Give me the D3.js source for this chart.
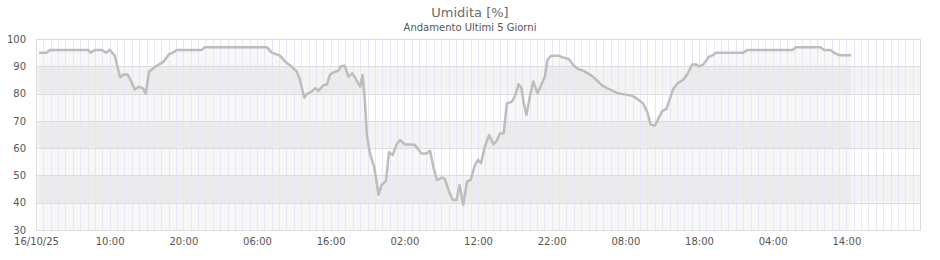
<!DOCTYPE html>
<html>
<head>
<meta charset="utf-8">
<script src="https://cdn.jsdelivr.net/npm/d3@7"></script>
<style>
  body { margin: 0; background: #fff; }
  svg { display: block; font-family: "DejaVu Sans", sans-serif; }
</style>
</head>
<body>
<div id="chart"></div>
<script>
// letture (data ora, umidita %)
const times = [
  "2025-10-16 00:25", "2025-10-16 01:25", "2025-10-16 01:55", "2025-10-16 07:05", "2025-10-16 07:25",
  "2025-10-16 08:00", "2025-10-16 08:55", "2025-10-16 09:30", "2025-10-16 10:00", "2025-10-16 10:40",
  "2025-10-16 11:00", "2025-10-16 11:25", "2025-10-16 11:55", "2025-10-16 12:25", "2025-10-16 12:50",
  "2025-10-16 13:25", "2025-10-16 13:55", "2025-10-16 14:30", "2025-10-16 14:55", "2025-10-16 15:20",
  "2025-10-16 15:55", "2025-10-16 16:35", "2025-10-16 17:20", "2025-10-16 17:40", "2025-10-16 18:05",
  "2025-10-16 18:35", "2025-10-16 19:05", "2025-10-16 22:30", "2025-10-16 22:55",
  "2025-10-17 07:20", "2025-10-17 08:00", "2025-10-17 09:05", "2025-10-17 09:50", "2025-10-17 10:40",
  "2025-10-17 11:25", "2025-10-17 11:50", "2025-10-17 12:25", "2025-10-17 12:50", "2025-10-17 13:25",
  "2025-10-17 13:55", "2025-10-17 14:20", "2025-10-17 15:00", "2025-10-17 15:30", "2025-10-17 15:55",
  "2025-10-17 16:30", "2025-10-17 17:00", "2025-10-17 17:25", "2025-10-17 17:55", "2025-10-17 18:25",
  "2025-10-17 18:55", "2025-10-17 19:20", "2025-10-17 20:00", "2025-10-17 20:20", "2025-10-17 20:35",
  "2025-10-17 20:55", "2025-10-17 21:20", "2025-10-17 21:55", "2025-10-17 22:30", "2025-10-17 22:55",
  "2025-10-17 23:30", "2025-10-17 23:55",
  "2025-10-18 00:25", "2025-10-18 00:55", "2025-10-18 01:25", "2025-10-18 02:05", "2025-10-18 03:25",
  "2025-10-18 04:20", "2025-10-18 05:00", "2025-10-18 05:30", "2025-10-18 06:00", "2025-10-18 06:25",
  "2025-10-18 07:05", "2025-10-18 07:30", "2025-10-18 08:05", "2025-10-18 08:35", "2025-10-18 09:05",
  "2025-10-18 09:30", "2025-10-18 10:00", "2025-10-18 10:30", "2025-10-18 11:00", "2025-10-18 11:35",
  "2025-10-18 12:00", "2025-10-18 12:25", "2025-10-18 12:55", "2025-10-18 13:30", "2025-10-18 14:05",
  "2025-10-18 14:30", "2025-10-18 15:00", "2025-10-18 15:30", "2025-10-18 15:55", "2025-10-18 16:35",
  "2025-10-18 17:00", "2025-10-18 17:30", "2025-10-18 17:55", "2025-10-18 18:10", "2025-10-18 18:35",
  "2025-10-18 19:05", "2025-10-18 19:30", "2025-10-18 20:05", "2025-10-18 20:35", "2025-10-18 21:05",
  "2025-10-18 21:25", "2025-10-18 21:55", "2025-10-18 22:55", "2025-10-18 23:35",
  "2025-10-19 00:20", "2025-10-19 00:55", "2025-10-19 01:35", "2025-10-19 02:20", "2025-10-19 03:25",
  "2025-10-19 04:05", "2025-10-19 04:50", "2025-10-19 05:30", "2025-10-19 06:05", "2025-10-19 07:00",
  "2025-10-19 07:55", "2025-10-19 08:55", "2025-10-19 09:30", "2025-10-19 10:25", "2025-10-19 11:00",
  "2025-10-19 11:25", "2025-10-19 12:00", "2025-10-19 12:30", "2025-10-19 13:00", "2025-10-19 13:35",
  "2025-10-19 14:05", "2025-10-19 14:30", "2025-10-19 15:05", "2025-10-19 15:50", "2025-10-19 16:25",
  "2025-10-19 17:05", "2025-10-19 17:35", "2025-10-19 18:00", "2025-10-19 18:35", "2025-10-19 19:20",
  "2025-10-19 19:55", "2025-10-19 20:20",
  "2025-10-20 00:00", "2025-10-20 00:35", "2025-10-20 06:40", "2025-10-20 07:10", "2025-10-20 10:30",
  "2025-10-20 11:00", "2025-10-20 11:50", "2025-10-20 12:20", "2025-10-20 13:05", "2025-10-20 14:40"
];
const humidity = [
  95, 95, 96, 96, 95,
  96, 96, 95, 96, 94,
  90.5, 86, 87, 87, 85,
  81.5, 82.5, 82, 80, 88,
  89.3, 90.5, 91.7, 93, 94.5,
  95, 96, 96, 97,
  97, 95, 94, 91.7, 90,
  88, 85, 78.5, 80, 80.7,
  82, 81, 83, 83.4, 87,
  88, 88.3, 90, 90.2, 86.2,
  87.4, 85.8, 82.5, 86.8, 79.5,
  64.8, 58, 53, 43, 46.5,
  48, 58.5,
  57.5, 61.2, 63, 61.4, 61.2,
  58, 58, 59, 52.5, 48.3,
  49.2, 48.7, 44, 41, 41,
  46.5, 39.2, 47.7, 48.4, 53.8,
  55.7, 54.5, 60.5, 64.8, 61.4,
  62.6, 65.4, 65.5, 76.4, 77,
  79, 83.4, 82, 77, 72.2,
  79.5, 84.4, 80.1, 83.2, 86.2,
  92.3, 93.9, 93.9, 93.2,
  92.7, 90.5, 89, 88.3, 86.6,
  85, 83, 82, 81.3, 80.1,
  79.7, 79.2, 78.3, 76.4, 73.1,
  68.7, 68.2, 70.9, 73.6, 74.4,
  78.3, 81.7, 83.8, 85, 87.1,
  90.7, 90.7, 89.9, 90.7, 93.5,
  94.1, 95,
  95, 96, 96, 97, 97,
  96, 96, 95, 94, 94
];
const yTicks = [30, 40, 50, 60, 70, 80, 90, 100];
const xTickLabels = ["16/10/25", "10:00", "20:00", "06:00", "16:00", "02:00",
  "12:00", "22:00", "08:00", "18:00", "04:00", "14:00"];
const periodStart = "2025-10-16 00:00";
const periodEnd = "2025-10-21 00:00";

const parse = d3.timeParse("%Y-%m-%d %H:%M");
const data = times.map((t, i) => ({date: parse(t), value: humidity[i]}));

const W = 940, H = 260;
const margin = {top: 39, right: 20, bottom: 30, left: 36};
const width = W - margin.left - margin.right,
  height = H - margin.top - margin.bottom;

const x = d3.scaleTime().domain([parse(periodStart), parse(periodEnd)]).range([0, width]);
const y = d3.scaleLinear().domain([30, 100]).range([height, 0]);

const svg = d3.select('#chart').append('svg')
  .attr('width', W)
  .attr('height', H);

svg.append('text')
  .attr('x', W / 2).attr('y', 12).attr('dy', '.35em')
  .attr('text-anchor', 'middle')
  .style('font-size', '13px').style('fill', '#6a6a6a')
  .text('Umidita [%]');

svg.append('text')
  .attr('x', W / 2).attr('y', 27).attr('dy', '.35em')
  .attr('text-anchor', 'middle')
  .style('font-size', '10px').style('fill', '#555')
  .text('Andamento Ultimi 5 Giorni');

const g = svg.append('g')
  .attr('transform', 'translate(' + margin.left + ',' + margin.top + ')');

// bande alternate
const bands = d3.pairs(yTicks).filter((p, i) => i % 2 === 1);
g.selectAll('.band').data(bands).enter().append('rect')
  .attr('x', 0).attr('width', width)
  .attr('y', d => y(d[1]))
  .attr('height', d => y(d[0]) - y(d[1]))
  .style('fill', '#f3f3f3');

// area sotto la linea
const area = d3.area()
  .x(d => x(d.date))
  .y0(height)
  .y1(d => y(d.value));
g.append('path').datum(data)
  .attr('d', area)
  .style('fill', 'rgba(0,0,0,0.03)');

// griglia verticale oraria
g.selectAll('.vgrid').data(x.ticks(d3.timeHour.every(1))).enter().append('line')
  .attr('x1', d => Math.round(x(d)) + 0.5).attr('x2', d => Math.round(x(d)) + 0.5)
  .attr('y1', 0).attr('y2', height)
  .style('stroke', '#e6e6f8').style('stroke-width', 1);

// griglia orizzontale
g.selectAll('.hgrid').data(yTicks).enter().append('line')
  .attr('x1', 0).attr('x2', width)
  .attr('y1', d => Math.round(y(d)) + 0.5).attr('y2', d => Math.round(y(d)) + 0.5)
  .style('stroke', '#dcdcdc').style('stroke-width', 1);

g.append('rect')
  .attr('x', 0.5).attr('y', 0.5)
  .attr('width', width).attr('height', height)
  .style('fill', 'none').style('stroke', '#dcdcdc');

const line = d3.line()
  .x(d => x(d.date))
  .y(d => y(d.value));
g.append('path').datum(data)
  .attr('d', line)
  .style('fill', 'none')
  .style('stroke', '#bdbdbd')
  .style('stroke-width', 2.5)
  .style('stroke-linejoin', 'round');

const yAxis = g.append('g')
  .call(d3.axisLeft(y).tickValues(yTicks).tickSize(0).tickPadding(10));
yAxis.select('.domain').remove();
yAxis.selectAll('text').style('font-size', '10px').style('fill', '#555')
  .style('font-family', '"DejaVu Sans", sans-serif');

const xTicks = xTickLabels.map((l, i) => d3.timeHour.offset(parse(periodStart), i * 10));
const xAxis = g.append('g')
  .attr('transform', 'translate(0,' + height + ')')
  .call(d3.axisBottom(x).tickValues(xTicks).tickSize(0).tickPadding(8)
    .tickFormat((d, i) => xTickLabels[i]));
xAxis.select('.domain').remove();
xAxis.selectAll('text').style('font-size', '10px').style('fill', '#555')
  .style('font-family', '"DejaVu Sans", sans-serif');
</script>
</body>
</html>
